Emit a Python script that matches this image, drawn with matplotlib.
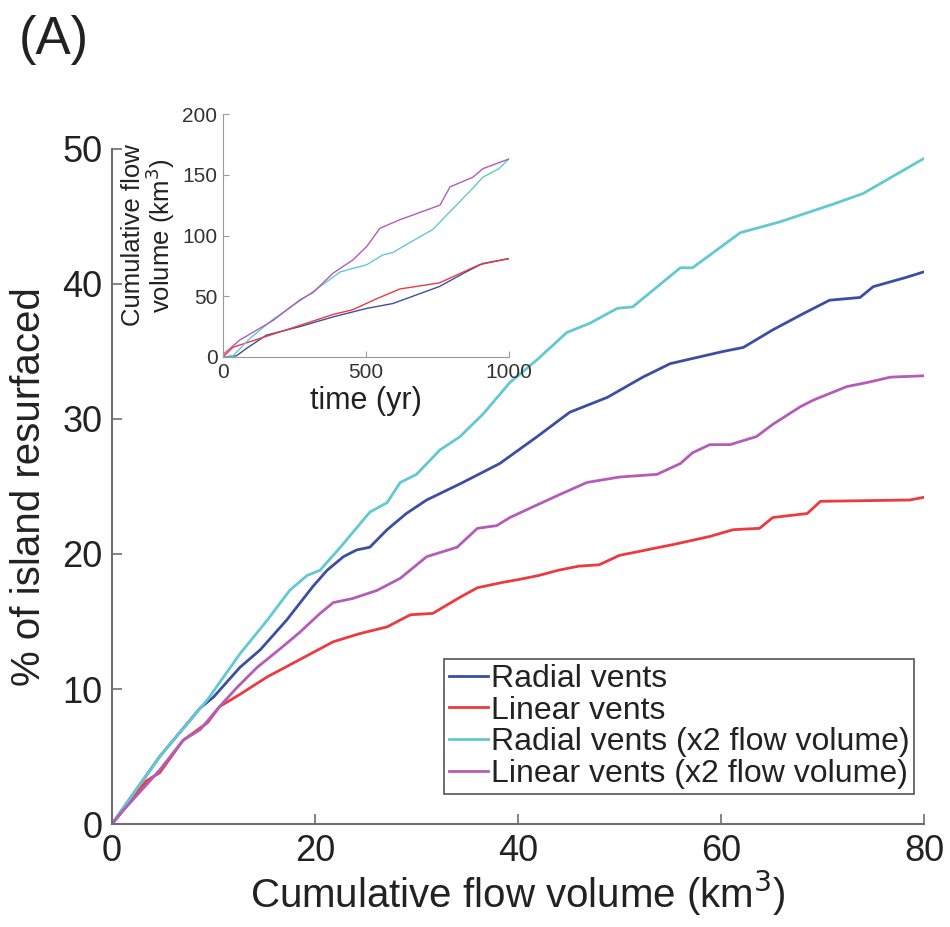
import matplotlib.pyplot as plt
import numpy as np

plt.rcParams['font.family'] = ['Liberation Sans', 'DejaVu Sans']

# main panel: % of island resurfaced vs cumulative flow volume (km3)
radial_x = [0, 4.7, 8.7, 10, 12.6, 14.6, 17.2, 19.8, 21.2, 22.8, 24.1, 25.4, 27.1, 29, 31,
            34.3, 38.2, 41.9, 45.1, 48.8, 52.3, 55, 60.2, 62.2, 65.1, 68.1, 70.7, 73.7, 75,
            78.3, 80]
radial_y = [0, 5, 8.6, 9.4, 11.6, 12.9, 15.1, 17.6, 18.8, 19.8, 20.3, 20.5, 21.8, 23, 24,
            25.2, 26.7, 28.7, 30.5, 31.6, 33.1, 34.1, 35, 35.3, 36.6, 37.8, 38.8, 39, 39.8,
            40.5, 40.9]

linear_x = [0, 3.4, 4.7, 7, 9.4, 10.6, 12.6, 15.3, 17.8, 19.8, 21.8, 24.4, 27.1, 29.4,
            31.6, 34.3, 36, 38.5, 40, 42, 44, 46, 48, 50, 52, 53.3, 55.3, 58.9, 61.2, 63.8,
            65.1, 68.5, 69.8, 78.6, 80]
linear_y = [0, 3.2, 3.8, 6.2, 7.5, 8.7, 9.6, 10.9, 11.9, 12.7, 13.5, 14.1, 14.6, 15.5,
            15.6, 16.8, 17.5, 17.9, 18.1, 18.4, 18.8, 19.1, 19.2, 19.9, 20.2, 20.4, 20.7,
            21.3, 21.8, 21.9, 22.7, 23, 23.9, 24, 24.2]

radial2_x = [0, 4.7, 9.4, 12.6, 15.3, 17.5, 19.2, 20.5, 22.5, 25.4, 27.1, 28.4, 30, 32.3,
             34.3, 36.6, 39.2, 41.9, 44.8, 47.1, 49.8, 51.3, 56, 57.2, 61.9, 65.8, 71, 74,
             80]
radial2_y = [0, 5, 9.2, 12.6, 15.1, 17.3, 18.4, 18.8, 20.5, 23.1, 23.8, 25.3, 25.9, 27.7,
             28.7, 30.4, 32.7, 34.4, 36.4, 37.1, 38.2, 38.3, 41.2, 41.2, 43.8, 44.6, 45.9,
             46.7, 49.3]

linear2_x = [0, 1.1, 4.7, 7, 8.7, 10.6, 12.3, 14.3, 16.6, 18.5, 20.5, 21.8, 23.7, 26.1,
             28.4, 29.7, 31, 34, 36, 37.9, 39.2, 41.2, 44.1, 46.8, 50, 53.7, 56, 57.2, 58.9,
             60.9, 63.5, 65.1, 67.8, 69.1, 72.4, 74.4, 76.7, 80]
linear2_y = [0, 1, 4, 6.2, 7, 8.7, 10.1, 11.6, 13, 14.2, 15.6, 16.4, 16.7, 17.3, 18.2, 19,
             19.8, 20.5, 21.9, 22.1, 22.7, 23.4, 24.4, 25.3, 25.7, 25.9, 26.7, 27.5, 28.1,
             28.1, 28.7, 29.6, 30.9, 31.4, 32.4, 32.7, 33.1, 33.2]

# inset: cumulative flow volume vs time
in_radial_t = [0, 47, 82, 152, 269, 385, 503, 594, 757, 850, 909, 1000]
in_radial_v = [0, 1, 7, 18, 25, 33, 40, 44, 58, 70, 77, 81]
in_linear_t = [0, 35, 152, 269, 385, 455, 538, 619, 757, 897, 1000]
in_linear_v = [0, 8, 17, 26, 35, 39, 48, 56, 61, 76, 81]
in_radial2_t = [0, 30, 35, 93, 175, 292, 375, 410, 503, 559, 594, 652, 734, 804, 874,
                909, 965, 1000]
in_radial2_v = [0, 0, 1, 15, 31, 50, 64, 70, 76, 84, 86, 94, 105, 122, 139, 148, 155, 163]
in_linear2_t = [0, 59, 175, 269, 315, 385, 455, 503, 549, 619, 689, 759, 794, 874, 909,
                1000]
in_linear2_v = [2, 14, 30, 47, 53, 69, 80, 91, 106, 113, 119, 125, 140, 148, 155, 163]

labels = ['Radial vents', 'Linear vents', 'Radial vents (x2 flow volume)',
          'Linear vents (x2 flow volume)']
colors = ['#3b4ea3', '#ec3a3f', '#62c9d2', '#b35cb8']

fig = plt.figure(figsize=(9.5, 9.27), dpi=100)
ax = fig.add_axes([0.1179, 0.1111, 0.8547, 0.7282])

ax.plot(radial_x, radial_y, color=colors[0], lw=2, label=labels[0])
ax.plot(linear_x, linear_y, color=colors[1], lw=2, label=labels[1])
ax.plot(radial2_x, radial2_y, color=colors[2], lw=2, label=labels[2])
ax.plot(linear2_x, linear2_y, color=colors[3], lw=2, label=labels[3])

ax.set_xlim(0, 80)
ax.set_ylim(0, 50)
ax.set_xticks([0, 20, 40, 60, 80])
ax.set_yticks([0, 10, 20, 30, 40, 50])
for s in ['top', 'right']:
    ax.spines[s].set_visible(False)
for s in ['left', 'bottom']:
    ax.spines[s].set_color('#6e6e6e')
    ax.spines[s].set_linewidth(1.5)
ax.tick_params(direction='in', length=7, width=1.2, color='#6e6e6e',
               labelsize=26, labelcolor='#222222', pad=7)
ax.set_xlabel('Cumulative flow volume (km$^3$)', fontsize=29, color='#222222', labelpad=0)
ax.set_ylabel('% of island resurfaced', fontsize=29, color='#222222', labelpad=10)

leg = ax.legend(loc='lower right', bbox_to_anchor=(0.988, 0.045), fontsize=23,
                handlelength=1.2, handletextpad=0.1, borderpad=0.15,
                labelspacing=0.05, borderaxespad=0, fancybox=False, framealpha=1)
leg.get_frame().set_edgecolor('#555555')
leg.get_frame().set_linewidth(1.2)
for t in leg.get_texts():
    t.set_color('#222222')

fig.text(0.02, 0.957, '(A)', fontsize=38, color='#222222', va='center')

# inset
ins = fig.add_axes([0.2347, 0.6149, 0.301, 0.2621])
ins.plot(in_radial_t, in_radial_v, color=colors[0], lw=1)
ins.plot(in_linear_t, in_linear_v, color=colors[1], lw=1)
ins.plot(in_radial2_t, in_radial2_v, color=colors[2], lw=1)
ins.plot(in_linear2_t, in_linear2_v, color=colors[3], lw=1)
ins.set_xlim(0, 1000)
ins.set_ylim(0, 200)
ins.set_xticks([0, 500, 1000])
ins.set_yticks([0, 50, 100, 150, 200])
for s in ['top', 'right']:
    ins.spines[s].set_visible(False)
for s in ['left', 'bottom']:
    ins.spines[s].set_color('#9a9a9a')
ins.tick_params(direction='in', length=4, color='#9a9a9a', labelsize=15,
                labelcolor='#333333', pad=4)
ins.set_xlabel('time (yr)', fontsize=22, color='#222222', labelpad=3)
ins.set_ylabel('Cumulative flow\nvolume (km$^3$)', fontsize=18.5, color='#222222',
               labelpad=4, linespacing=0.95)
ins.patch.set_alpha(0)

fig.savefig('out.png', dpi=100)
